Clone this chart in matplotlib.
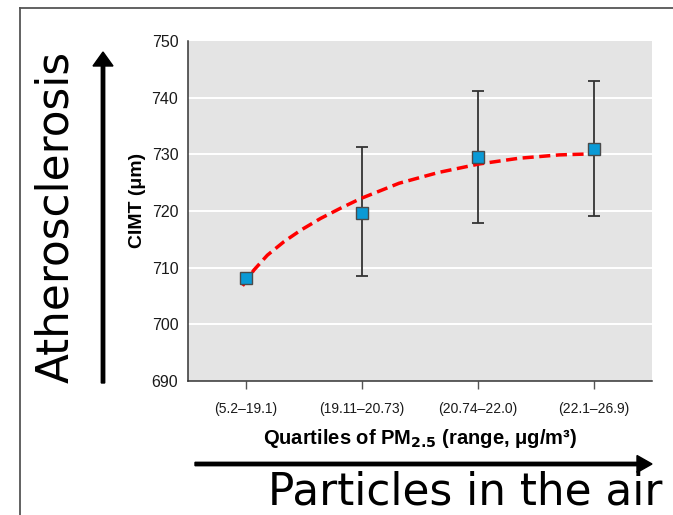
import numpy as np
import matplotlib
matplotlib.use("Agg")
import matplotlib.pyplot as plt
from matplotlib.lines import Line2D
from matplotlib.patches import FancyArrow

# data
quartiles = ["(5.2\u201319.1)", "(19.11\u201320.73)", "(20.74\u201322.0)", "(22.1\u201326.9)"]
cimt = [708.2, 719.6, 729.5, 730.9]
err_low = [0.0, 11.1, 11.6, 11.7]
err_high = [0.0, 11.7, 11.7, 12.0]

# dashed trend curve
curve_x = [-0.03, 0.069, 0.184, 0.328, 0.471, 0.644, 0.816, 0.989, 1.32, 1.66, 2.01, 2.35, 2.70, 3.01]
curve_y = [706.8, 709.6, 712.2, 714.6, 716.6, 718.7, 720.5, 722.2, 724.9, 726.8, 728.3, 729.3, 729.9, 730.1]

yticks = [690, 700, 710, 720, 730, 740, 750]

narrow = ["Liberation Sans", "DejaVu Sans"]

fig = plt.figure(figsize=(6.73, 5.15), dpi=100)
ax = fig.add_axes([188 / 673, 134 / 515, 464 / 673, 340 / 515])
ax.set_facecolor("#e4e4e4")

x = np.arange(len(quartiles))
ax.set_xlim(-0.5, 3.5)
ax.set_ylim(690, 750)

for yv in yticks[1:-1]:
    ax.axhline(yv, color="white", lw=1.4, zorder=1)

ax.plot(curve_x, curve_y, color="#ff0000", lw=2.5, ls=(0, (3.2, 1.6)), zorder=3)

# error bars only where there is a range
for i in range(len(x)):
    if err_low[i] > 0 or err_high[i] > 0:
        ax.errorbar(x[i], cimt[i], yerr=[[err_low[i]], [err_high[i]]], fmt="none",
                    ecolor="#333333", elinewidth=1.3, capsize=4.5, capthick=1.3, zorder=2)

ax.plot(x, cimt, ls="none", marker="s", markersize=8, markerfacecolor="#0a9ad6",
        markeredgecolor="#4a4a4a", markeredgewidth=1.0, zorder=4)

for s in ["top", "right"]:
    ax.spines[s].set_visible(False)
for s in ["left", "bottom"]:
    ax.spines[s].set_color("#333333")
    ax.spines[s].set_linewidth(1.1)

ax.set_xticks(x)
ax.set_xticklabels(quartiles, family=narrow, fontsize=10, color="#1a1a1a")
ax.set_yticks(yticks)
ax.set_yticklabels([str(v) for v in yticks], family=narrow, fontsize=11.5, color="#1a1a1a")
ax.tick_params(axis="y", length=0, pad=7)
ax.tick_params(axis="x", length=6, width=1, color="#555555", pad=9)

ax.set_ylabel("CIMT (\u03bcm)", family=narrow, fontsize=14, fontweight="bold")
ax.yaxis.set_label_coords(-0.09, 0.53)
ax.set_xlabel("Quartiles of PM$_{\\mathbf{2.5}}$ (range, \u03bcg/m\u00b3)", family=narrow,
              fontsize=14.5, fontweight="bold", labelpad=8)

# frame lines of the slide
fig.add_artist(Line2D([20 / 673, 20 / 673], [0, 1 - 8 / 515], color="#555555", lw=1.3))
fig.add_artist(Line2D([20 / 673, 1], [1 - 8 / 515, 1 - 8 / 515], color="#555555", lw=1.3))

# arrows and big labels
fig.patches.append(FancyArrow(
    103 / 673, 1 - 383 / 515, 0, (383 - 52) / 515, width=3.4 / 673, head_width=20 / 673,
    head_length=14 / 515, length_includes_head=True, color="black", transform=fig.transFigure))
fig.patches.append(FancyArrow(
    195 / 673, 1 - 464 / 515, (652 - 195) / 673, 0, width=3.4 / 515, head_width=17 / 515,
    head_length=15 / 673, length_includes_head=True, color="black", transform=fig.transFigure))

fig.text(56 / 673, 1 - 217 / 515, "Atherosclerosis", rotation=90, ha="center", va="center",
         fontsize=31.5, family="DejaVu Sans")
fig.text(268 / 673, 1 - 492 / 515, "Particles in the air", ha="left", va="center",
         fontsize=31.5, family="DejaVu Sans")

fig.savefig("out.png", dpi=100)
